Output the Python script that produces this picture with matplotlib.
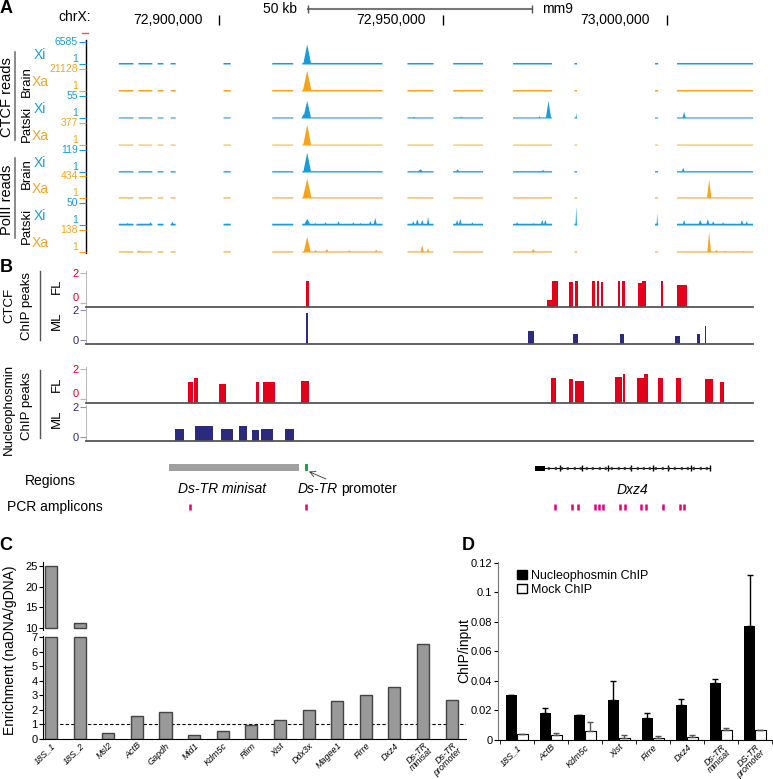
import numpy as np
import matplotlib
matplotlib.use("Agg")
import matplotlib.pyplot as plt
from matplotlib.patches import Patch

plt.rcParams['font.family'] = ['Liberation Sans', 'DejaVu Sans']

W, H = 773, 779

# ---------------- data ----------------
# browser window on chrX (mm9), positions in kb
view = (72870.3, 73019.3)
coord_ticks = [72900, 72950, 73000]
scale_bar = (72920, 72970)

# stretches that carry reads
mappable = [(72877.5, 72880.8), (72881.9, 72885.0), (72886.2, 72887.5), (72889.1, 72890.2),
            (72900.9, 72902.5), (72911.8, 72916.5), (72918.5, 72936.4), (72942.0, 72947.8),
            (72952.2, 72958.9), (72965.6, 72974.3), (72979.3, 72979.9), (72997.3, 72998.0),
            (73002.2, 73019.2)]

track_allele = ['Xi', 'Xa', 'Xi', 'Xa', 'Xi', 'Xa', 'Xi', 'Xa']
track_max = [6585, 21128, 55, 377, 119, 434, 50, 138]
track_base = [0.07, 0.07, 0.05, 0.04, 0.06, 0.05, 0.08, 0.05]

# peaks: (centre kb, half width kb, height as fraction of track max)
peaks_ctcf_brain_xi = [(72919.6, 0.9, 0.92)]
peaks_ctcf_brain_xa = [(72919.6, 1.0, 0.95)]
peaks_ctcf_patski_xi = [(72919.6, 0.9, 0.8), (72918.8, 0.5, 0.2), (72943.5, 0.5, 0.08),
                        (72954.0, 0.5, 0.08), (72971.5, 0.4, 0.1), (72973.5, 0.6, 0.8),
                        (72979.7, 0.15, 0.25), (73003.8, 0.4, 0.3)]
peaks_ctcf_patski_xa = [(72919.6, 0.9, 0.95)]
peaks_pol2_brain_xi = [(72919.6, 0.9, 0.9), (72944.9, 0.8, 0.15), (72953.2, 0.5, 0.15),
                       (72972.3, 0.5, 0.12), (73003.6, 0.4, 0.22)]
peaks_pol2_brain_xa = [(72919.6, 1.0, 0.9), (73009.4, 0.5, 0.85)]
peaks_pol2_patski_xi = [(72879.5, 0.5, 0.12), (72881.7, 0.4, 0.1), (72884.6, 0.5, 0.15),
                        (72889.5, 0.4, 0.18), (72901.8, 0.4, 0.1), (72919.6, 0.8, 0.3),
                        (72921.4, 0.4, 0.12), (72923.7, 0.4, 0.15), (72926.6, 0.4, 0.2),
                        (72929.9, 0.4, 0.15), (72931.5, 0.4, 0.12), (72933.7, 0.4, 0.2),
                        (72934.8, 0.4, 0.35), (72943.3, 0.4, 0.2), (72944.2, 0.4, 0.3),
                        (72945.3, 0.4, 0.25), (72946.6, 0.3, 0.4), (72953.1, 0.4, 0.25),
                        (72953.8, 0.4, 0.3), (72956.5, 0.4, 0.15), (72966.5, 0.4, 0.15),
                        (72970.1, 0.4, 0.12), (72972.1, 0.4, 0.25), (72972.8, 0.4, 0.25),
                        (72979.7, 0.15, 0.9), (72997.8, 0.15, 0.55), (73003.8, 0.4, 0.25),
                        (73005.1, 0.4, 0.1), (73007.4, 0.5, 0.25), (73009.1, 0.4, 0.3),
                        (73010.3, 0.4, 0.2), (73012.5, 0.4, 0.15), (73016.7, 0.4, 0.25),
                        (73017.8, 0.4, 0.2)]
peaks_pol2_patski_xa = [(72882.0, 0.5, 0.1), (72919.6, 0.8, 0.72), (72921.5, 0.4, 0.12),
                        (72924.0, 0.5, 0.15), (72929.0, 0.5, 0.1), (72935.0, 0.4, 0.12),
                        (72945.3, 0.4, 0.33), (72946.6, 0.3, 0.2), (72970.1, 0.5, 0.15),
                        (73009.4, 0.4, 0.95), (73011.0, 0.4, 0.12), (73013.0, 0.4, 0.08),
                        (73017.0, 0.4, 0.08)]
track_peaks = [peaks_ctcf_brain_xi, peaks_ctcf_brain_xa, peaks_ctcf_patski_xi, peaks_ctcf_patski_xa,
               peaks_pol2_brain_xi, peaks_pol2_brain_xa, peaks_pol2_patski_xi, peaks_pol2_patski_xa]

# called ChIP peaks: (start kb, end kb, score)
ctcf_fl = [(72919.5, 72920.2, 1.5), (72973.2, 72974.3, 0.2), (72974.3, 72975.7, 1.5),
           (72978.3, 72979.2, 1.4), (72979.5, 72980.1, 1.5), (72983.3, 72983.9, 1.5),
           (72984.4, 72985.0, 1.5), (72985.3, 72985.7, 1.4), (72989.1, 72989.7, 1.5),
           (72990.0, 72990.6, 1.45), (72993.7, 72994.4, 1.35), (72994.6, 72995.3, 1.5),
           (72998.7, 72999.3, 1.5), (73002.4, 73004.5, 1.2)]
ctcf_ml = [(72919.4, 72919.9, 1.8), (72969.0, 72970.3, 0.6), (72979.0, 72980.1, 0.4),
           (72989.5, 72990.4, 0.35), (73001.8, 73002.9, 0.27), (73006.7, 73007.4, 0.35),
           (73008.5, 73008.9, 0.93)]
npm_fl = [(72893.1, 72894.2, 1.15), (72894.4, 72895.3, 1.4), (72900.0, 72901.6, 1.0),
          (72908.3, 72908.9, 1.15), (72909.8, 72912.5, 1.15), (72918.3, 72920.1, 1.2),
          (72974.1, 72975.4, 1.4), (72978.3, 72979.0, 1.3), (72979.5, 72981.5, 1.2),
          (72988.4, 72990.0, 1.5), (72990.2, 72990.6, 1.7), (72993.3, 72994.9, 1.4),
          (72994.9, 72995.8, 1.7), (72998.0, 72999.3, 1.4), (73002.0, 73003.3, 1.4),
          (73008.5, 73010.3, 1.3), (73012.0, 73012.9, 1.1)]
npm_ml = [(72890.2, 72892.2, 0.5), (72894.6, 72898.7, 0.7), (72900.4, 72903.1, 0.5),
          (72904.5, 72906.2, 0.7), (72907.4, 72908.9, 0.45), (72909.4, 72912.1, 0.55),
          (72914.7, 72916.7, 0.5)]

minisat = (72888.8, 72917.9)
promoter = (72919.2, 72919.9)
dxz4 = (72970.5, 73009.6)
dxz4_first = (72970.5, 72972.8)
dxz4_units = [72976.1, 72981.2, 72986.8, 72992.0, 72996.9, 73000.4, 73005.4, 73009.6]
amplicons = [72893.5, 72919.4, 72975.0, 72978.8, 72980.1, 72983.9, 72985.0, 72985.9,
             72989.5, 72990.6, 72994.2, 72995.3, 72999.1, 73002.9, 73003.8]

# panel C
c_labels = ['18S_1', '18S_2', 'Msl2', 'ActB', 'Gapdh', 'Mid1', 'Kdm5c', 'Rlim', 'Xist',
            'Ddx3x', 'Magee1', 'Firre', 'Dxz4', 'Ds-TR\nminisat', 'Ds-TR\npromoter']
c_vals = [25.0, 11.3, 0.41, 1.55, 1.82, 0.30, 0.52, 0.93, 1.27, 2.0, 2.59, 3.02, 3.57, 6.5, 2.68]

# panel D
d_labels = ['18S_1', 'ActB', 'Kdm5c', 'Xist', 'Firre', 'Dxz4', 'Ds-TR\nminisat', 'DS-TR\npromoter']
npm_vals = [0.0308, 0.0184, 0.0169, 0.0272, 0.0146, 0.0236, 0.0389, 0.0775]
npm_err = [0.0, 0.0034, 0.0, 0.0126, 0.0036, 0.0043, 0.0027, 0.0342]
mock_vals = [0.0038, 0.0031, 0.0061, 0.0016, 0.0016, 0.0022, 0.0065, 0.0070]
mock_err = [0.0005, 0.0014, 0.0063, 0.0020, 0.0011, 0.0012, 0.0018, 0.0]

# ---------------- figure ----------------
fig = plt.figure(figsize=(W / 100, H / 100), dpi=100)
BLUE, ORANGE = '#1a9cd8', '#f5a41e'
RED, NAVY = '#e3001b', '#2b2a7c'
allele_col = {'Xi': BLUE, 'Xa': ORANGE}


def px_axes(x0, y0, x1, y1):
    return fig.add_axes([x0 / W, 1 - y1 / H, (x1 - x0) / W, (y1 - y0) / H])


def bare(ax):
    for s in ax.spines.values():
        s.set_visible(False)
    ax.set_xticks([])
    ax.set_yticks([])
    ax.patch.set_visible(False)


def coverage(x, base, peaks):
    y = np.zeros_like(x)
    for s, e in mappable:
        y[(x >= s) & (x <= e)] = base
    for c, w, h in peaks:
        y = np.maximum(y, h * np.clip(1 - np.abs(x - c) / w, 0, 1))
    return y


lay = fig.add_axes([0, 0, 1, 1])
lay.set_xlim(0, W)
lay.set_ylim(H, 0)
lay.axis('off')

for x, y, s in [(6, 8, 'A'), (6, 267, 'B'), (6, 546, 'C'), (468, 545, 'D')]:
    lay.text(x, y, s, fontsize=13, fontweight='bold', ha='center', va='center')

# header with coordinates
hdr = px_axes(86, 0, 753, 30)
hdr.set_xlim(*view)
hdr.set_ylim(30, 0)
bare(hdr)
hdr.vlines(coord_ticks, 15, 25, color='k', lw=1)
for t in coord_ticks:
    hdr.annotate(f'{int(round(t * 1000)):,}', xy=(t, 20), xytext=(-12, 0), textcoords='offset points',
                 ha='right', va='center', fontsize=10)
hdr.plot(scale_bar, [9, 9], color='#777777', lw=1.5)
hdr.vlines(scale_bar, 5, 13, color='#555555', lw=1)
hdr.annotate(f'{scale_bar[1] - scale_bar[0]} kb', xy=(scale_bar[0], 9), xytext=(-8, 0),
             textcoords='offset points', ha='right', va='center', fontsize=10)
hdr.annotate('mm9', xy=(scale_bar[1], 9), xytext=(7, 0), textcoords='offset points',
             ha='left', va='center', fontsize=10)
lay.text(58, 17, 'chrX:', fontsize=10, ha='left', va='center')

# read coverage tracks
base_y = [64, 91, 118, 145, 172, 198, 225, 252]
grid = np.linspace(view[0], view[1], 4000)
for i in range(8):
    c = allele_col[track_allele[i]]
    ax = px_axes(86, base_y[i] - 22, 753, base_y[i])
    ax.set_xlim(*view)
    ax.set_ylim(0, 1)
    ax.fill_between(grid, 0, coverage(grid, track_base[i], track_peaks[i]), color=c, lw=0)
    for s in ax.spines.values():
        s.set_visible(False)
    ax.patch.set_visible(False)
    ax.set_xticks([])
    ax.set_yticks([0, 1])
    ax.set_yticklabels(['1', str(track_max[i])])
    ax.tick_params(axis='y', length=5, width=0.8, color=c, labelcolor=c, labelsize=7.5, pad=1)
    lo, hi = ax.get_yticklabels()
    lo.set_va('bottom')
    hi.set_va('center')
    lay.text(40, base_y[i] - 9, track_allele[i], color=c, fontsize=10, ha='center', va='center')

lay.plot([86, 86], [40, 253], color='k', lw=1)
lay.plot([82, 88], [33, 33], color='#f05050', lw=1)
for yc, name in [(82, 'Brain'), (124, 'Patski'), (174, 'Brain'), (226, 'Patski')]:
    lay.text(27, yc, name, rotation=90, fontsize=9.5, ha='center', va='center')
lay.text(7, 97, 'CTCF reads', rotation=90, fontsize=10.5, ha='center', va='center')
lay.plot([15, 15], [52, 140], color='#777777', lw=1.2)
lay.text(7, 200, 'PolII reads', rotation=90, fontsize=10.5, ha='center', va='center')
lay.plot([15, 15], [158, 238], color='#777777', lw=1.2)

# ChIP peak tracks
b_lim = (-0.3, 2.15)
for top, pk, c in [(271, ctcf_fl, RED), (308, ctcf_ml, NAVY), (367, npm_fl, RED), (405, npm_ml, NAVY)]:
    ax = px_axes(86, top, 753, top + 36)
    ax.set_xlim(*view)
    ax.set_ylim(*b_lim)
    st = np.array([p[0] for p in pk])
    en = np.array([p[1] for p in pk])
    sc = np.array([p[2] for p in pk])
    ax.bar(st, sc - b_lim[0], width=en - st, bottom=b_lim[0], align='edge', color=c, lw=0)
    ax.patch.set_visible(False)
    ax.spines['top'].set_visible(False)
    ax.spines['right'].set_visible(False)
    ax.spines['bottom'].set_color('#555555')
    ax.spines['bottom'].set_linewidth(1.3)
    ax.spines['left'].set_color('#aaaaaa')
    ax.spines['left'].set_linewidth(0.6)
    ax.set_xticks([])
    ax.set_yticks([0, 2])
    ax.tick_params(axis='y', length=4, width=0.8, color='#f0a0a0' if c == RED else '#9090c0',
                   labelcolor=c, labelsize=8, pad=1)
    if c == RED:
        ax.get_yticklabels()[0].set_va('bottom')

for yc, name in [(286, 'FL'), (321, 'ML'), (384, 'FL'), (419, 'ML')]:
    lay.text(57, yc, name, rotation=90, fontsize=9.5, ha='center', va='center')
lay.text(9, 305, 'CTCF', rotation=90, fontsize=9.5, ha='center', va='center')
lay.text(27, 306, 'ChIP peaks', rotation=90, fontsize=9.5, ha='center', va='center')
lay.plot([40, 40], [271, 340], color='#555555', lw=1)
lay.text(9, 409, 'Nucleophosmin', rotation=90, fontsize=9.5, ha='center', va='center')
lay.text(27, 406, 'ChIP peaks', rotation=90, fontsize=9.5, ha='center', va='center')
lay.plot([40, 40], [370, 438], color='#555555', lw=1)

# regions and amplicons
reg = px_axes(86, 455, 753, 515)
reg.set_xlim(*view)
reg.set_ylim(515, 455)
bare(reg)
reg.barh(467, minisat[1] - minisat[0], left=minisat[0], height=7, color='#a0a0a0')
reg.barh(467, promoter[1] - promoter[0], left=promoter[0], height=7, color='#1aa84a')
reg.plot(dxz4, [468, 468], color='k', lw=0.8)
reg.barh(468, dxz4_first[1] - dxz4_first[0], left=dxz4_first[0], height=5, color='k')
reg.vlines(dxz4_units, 465, 471, color='k', lw=1)
chev = np.linspace(dxz4_first[1] + 1.0, dxz4[1] - 0.6, 26)
reg.plot(chev, np.full(len(chev), 468), ls='none', marker=8, ms=1.8, color='#333333')
reg.vlines(amplicons, 504, 510, color='#e5007d', lw=1.8)
reg.annotate('', xy=(promoter[1] + 0.2, 471.5), xytext=(promoter[1] + 4.0, 479),
             arrowprops=dict(arrowstyle='->', color='#333333', lw=0.6, shrinkA=0, shrinkB=0))

lay.text(222, 489, 'Ds-TR minisat', fontsize=10, style='italic', ha='center', va='center')
lay.text(298, 489, 'Ds-TR', fontsize=10, style='italic', ha='left', va='center')
lay.text(341, 489, 'promoter', fontsize=10, ha='left', va='center')
lay.text(632, 490, 'Dxz4', fontsize=10, style='italic', ha='center', va='center')
lay.text(50, 481, 'Regions', fontsize=10, ha='center', va='center')
lay.text(7, 507, 'PCR amplicons', fontsize=10, ha='left', va='center')

# ---------------- panel C ----------------
cx = np.arange(len(c_labels))
c_up = px_axes(43, 562, 466, 630)
c_lo = px_axes(43, 636, 466, 739)
low_top = 7.0
cv = np.array(c_vals)
big = cv > 10
c_up.bar(cx[big], cv[big] - 10, bottom=10, width=0.42, color='#999999', edgecolor='#444444', lw=1)
c_lo.bar(cx, np.minimum(cv, low_top), width=0.42, color='#999999', edgecolor='#444444', lw=1)
c_lo.axhline(1, color='k', ls=(0, (3, 2)), lw=0.8, zorder=0)
for ax in (c_up, c_lo):
    ax.set_xlim(-0.28, 14.5)
    ax.spines['top'].set_visible(False)
    ax.spines['right'].set_visible(False)
    ax.tick_params(axis='y', length=3, labelsize=8, pad=1)
c_up.set_ylim(9.5, 26)
c_up.set_yticks([10, 15, 20, 25])
c_up.spines['bottom'].set_visible(False)
c_up.set_xticks([])
c_lo.set_ylim(0, 7.07)
c_lo.set_yticks(range(8))
c_lo.set_xticks(cx)
c_lo.set_xticklabels(c_labels, rotation=45, ha='right', rotation_mode='anchor',
                     style='italic', fontsize=6.5, linespacing=0.75)
c_lo.tick_params(axis='x', length=0, pad=1.5)
lay.text(10, 650, 'Enrichment (naDNA/gDNA)', rotation=90, fontsize=10, ha='center', va='center')

# ---------------- panel D ----------------
dx = np.arange(len(d_labels))
d = px_axes(498, 562, 772, 740)
bw = 0.32
z = np.zeros(len(dx))
d.bar(dx - bw / 2, npm_vals, width=bw, color='k', yerr=[z, npm_err],
      error_kw=dict(ecolor='k', elinewidth=1, capsize=2.5, capthick=1))
d.bar(dx + bw / 2, mock_vals, width=bw, color='w', edgecolor='k', lw=0.8, yerr=[z, mock_err],
      error_kw=dict(ecolor='#555555', elinewidth=1, capsize=2.5, capthick=1))
d.set_xlim(-0.55, 7.5)
d.set_ylim(0, 0.1205)
d.set_yticks([0, 0.02, 0.04, 0.06, 0.08, 0.10, 0.12])
d.set_yticklabels(['0', '0.02', '0.04', '0.06', '0.08', '0.1', '0.12'])
d.set_xticks(dx)
d.set_xticklabels(d_labels, rotation=45, ha='right', rotation_mode='anchor',
                  style='italic', fontsize=6.5, linespacing=0.75)
d.set_xticks(np.arange(-0.5, 8, 1), minor=True)
d.tick_params(axis='x', which='major', length=0, pad=2)
d.tick_params(axis='x', which='minor', length=3)
d.tick_params(axis='y', length=3, labelsize=8, pad=1)
d.spines['top'].set_visible(False)
d.spines['right'].set_visible(False)
d.spines['left'].set_color('#777777')
d.set_ylabel('ChIP/input', fontsize=10, labelpad=0)
d.legend(handles=[Patch(facecolor='k', edgecolor='k', label='Nucleophosmin ChIP'),
                  Patch(facecolor='w', edgecolor='k', label='Mock ChIP')],
         loc='upper left', bbox_to_anchor=(0.03, 1.02), frameon=False, fontsize=9,
         handlelength=0.75, handleheight=0.75, handletextpad=0.3, labelspacing=0.2)

fig.savefig('out.png', dpi=100)
